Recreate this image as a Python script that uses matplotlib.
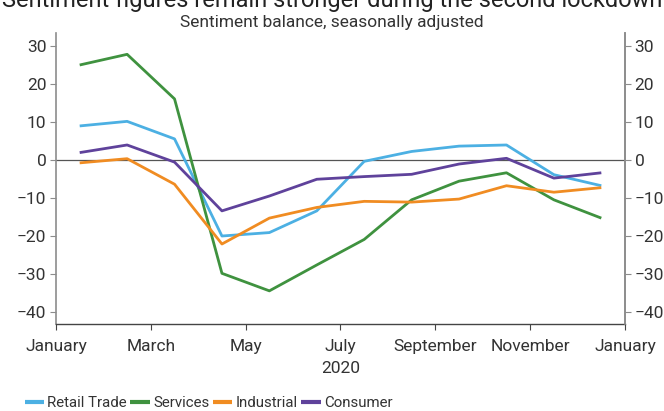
import matplotlib
matplotlib.use("Agg")
import matplotlib.pyplot as plt
import numpy as np

plt.rcParams['font.family'] = ['Roboto', 'DejaVu Sans']

# Monthly sentiment balances, 2020 (seasonally adjusted)
months = ["Jan", "Feb", "Mar", "Apr", "May", "Jun",
          "Jul", "Aug", "Sep", "Oct", "Nov", "Dec"]
retail_trade = [8.9, 10.1, 5.5, -20.0, -19.1, -13.4, -0.4, 2.2, 3.6, 3.9, -3.9, -6.8]
services = [24.9, 27.7, 16.0, -29.8, -34.4, -27.6, -20.9, -10.5, -5.6, -3.4, -10.5, -15.3]
industrial = [-0.8, 0.3, -6.4, -22.1, -15.3, -12.5, -10.9, -11.1, -10.3, -6.8, -8.5, -7.3]
consumer = [1.9, 3.9, -0.6, -13.4, -9.5, -5.1, -4.4, -3.8, -1.1, 0.4, -4.8, -3.4]

tick_labels = ["January", "March", "May", "July", "September", "November", "January"]
y_ticks = [30, 20, 10, 0, -10, -20, -30, -40]

series = [
    ("Retail Trade", retail_trade, "#4cb0e3"),
    ("Services", services, "#3f923f"),
    ("Industrial", industrial, "#f08c22"),
    ("Consumer", consumer, "#5f429b"),
]

fig = plt.figure(figsize=(6.64, 4.11), dpi=100)
ax = fig.add_axes([0.0843, 0.2117, 0.857, 0.708])

# points sit at mid-month
x = np.arange(len(months)) + 0.5
for name, vals, col in series:
    ax.plot(x, vals, color=col, lw=2.0, label=name, solid_capstyle="butt")

ax.axhline(0, color="#555555", lw=0.9, zorder=0)
ax.set_xlim(0, 12)
ax.set_ylim(-43.1, 33.3)
ax.set_xticks(np.arange(0, 13, 2))
ax.set_xticklabels(tick_labels)
ax.set_yticks(y_ticks)
ax.set_xlabel("2020", fontsize=12.5, color="#333333", labelpad=5)

ax.spines["top"].set_visible(False)
for s in ["left", "right"]:
    ax.spines[s].set_color("#8c8c8c")
    ax.spines[s].set_linewidth(1.2)
ax.spines["bottom"].set_color("#444444")
ax.spines["bottom"].set_linewidth(1.0)

ax.tick_params(axis="y", direction="out", length=4, width=0.8, color="#8c8c8c",
               labelsize=12.5, labelcolor="#333333", pad=3)
ax.tick_params(axis="x", direction="out", length=4, width=0.8, color="#444444",
               labelsize=12.5, labelcolor="#333333", pad=7)

# mirrored scale on the right
ax2 = ax.twinx()
ax2.set_ylim(ax.get_ylim())
ax2.set_yticks(y_ticks)
ax2.spines["top"].set_visible(False)
ax2.spines["left"].set_visible(False)
ax2.spines["bottom"].set_visible(False)
ax2.spines["right"].set_color("#8c8c8c")
ax2.spines["right"].set_linewidth(1.2)
ax2.tick_params(axis="y", direction="out", length=4, width=0.8, color="#8c8c8c",
                labelsize=12.5, labelcolor="#333333", pad=3)

fig.text(0.5, 1 - 7 / 411, "Sentiment figures remain stronger during the second lockdown",
         ha="center", va="baseline", fontsize=17, color="#222222")
fig.text(0.5, 1 - 27 / 411, "Sentiment balance, seasonally adjusted",
         ha="center", va="baseline", fontsize=12.5, color="#333333")

leg = fig.legend(loc="lower left", bbox_to_anchor=(0.028, -0.012), ncol=4, frameon=False,
                 fontsize=10.8, handlelength=1.3, handletextpad=0.2, columnspacing=0.25,
                 borderaxespad=0.0)
for t in leg.get_texts():
    t.set_color("#333333")
for h in leg.legend_handles:
    h.set_linewidth(3)

fig.savefig("out.png", dpi=100)
